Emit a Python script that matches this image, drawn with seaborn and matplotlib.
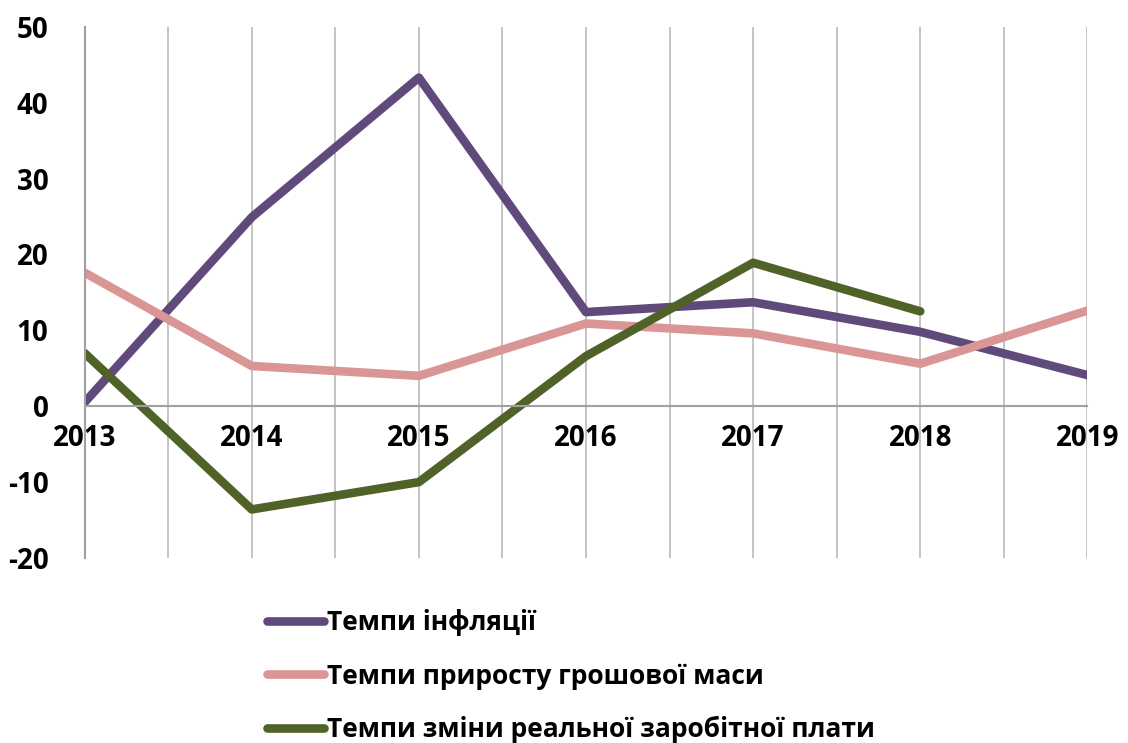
import numpy as np
import pandas as pd
import matplotlib.pyplot as plt
import seaborn as sns

years = [2013, 2014, 2015, 2016, 2017, 2018, 2019]
inflation = [0.5, 24.9, 43.3, 12.4, 13.7, 9.8, 4.1]
money_supply = [17.6, 5.3, 4.0, 10.9, 9.6, 5.6, 12.6]
real_wages = [7.0, -13.6, -10.0, 6.6, 18.9, 12.5, np.nan]

series_names = ['Темпи інфляції', 'Темпи приросту грошової маси',
                'Темпи зміни реальної заробітної плати']
colors = ['#604A7B', '#D99694', '#4F6228']

df = pd.DataFrame({'Рік': years * 3,
                   'Значення': inflation + money_supply + real_wages,
                   'Показник': sum([[n] * len(years) for n in series_names], [])})
df = df.dropna()

sns.set_style('white')
plt.rcParams['font.family'] = ['Open Sans', 'DejaVu Sans']
plt.rcParams['font.weight'] = 'bold'
plt.rcParams['axes.unicode_minus'] = False
plt.rcParams['text.color'] = 'black'
plt.rcParams['xtick.color'] = 'black'
plt.rcParams['ytick.color'] = 'black'

fig = plt.figure(figsize=(11.28, 7.43), dpi=100)
ax = fig.add_axes([0.075, 0.249, 0.889, 0.715])

sns.lineplot(data=df, x='Рік', y='Значення', hue='Показник', palette=colors,
             hue_order=series_names, linewidth=6.2, ax=ax, legend=False,
             solid_capstyle='round')

ax.set_xlim(2013, 2019)
ax.set_ylim(-20, 50)
ax.set_xticks(years)
ax.set_xticks(np.arange(2013.5, 2019, 1), minor=True)
ax.set_yticks(range(-20, 51, 10))
ax.set_xlabel('')
ax.set_ylabel('')

ax.grid(axis='x', which='both', color='#BFBFBF', linewidth=1.3)
ax.set_axisbelow(True)
for s in ['top', 'right']:
    ax.spines[s].set_visible(False)
ax.spines['left'].set_color('#A0A0A0')
ax.spines['left'].set_linewidth(1.5)
ax.spines['bottom'].set_position(('data', 0))
ax.spines['bottom'].set_color('#A0A0A0')
ax.spines['bottom'].set_linewidth(1.5)

ax.tick_params(axis='both', which='both', length=0, labelsize=20)
ax.tick_params(axis='x', pad=13)
ax.tick_params(axis='y', pad=26)
for lab in ax.get_xticklabels() + ax.get_yticklabels():
    lab.set_fontweight('bold')

handles = [plt.Line2D([], [], color=c, linewidth=6.2, solid_capstyle='round')
           for c in colors]
fig.legend(handles, series_names, loc='upper left',
           bbox_to_anchor=(0.216, 0.212), frameon=False,
           handlelength=2.15, handletextpad=0.12, labelspacing=1.0,
           prop={'family': ['Open Sans', 'DejaVu Sans'], 'weight': 'bold', 'size': 19})

fig.savefig('out.png', dpi=100)
